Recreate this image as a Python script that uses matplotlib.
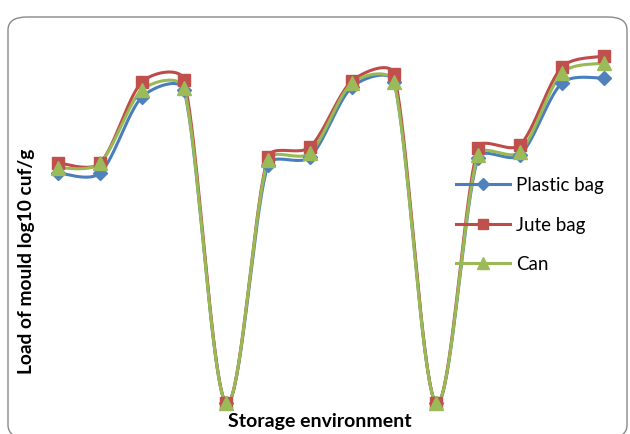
import numpy as np
import matplotlib
matplotlib.use("Agg")
import matplotlib.pyplot as plt
from matplotlib.patches import FancyBboxPatch
from matplotlib.lines import Line2D

categories = list(range(1, 15))
plastic_bag = [4.60, 4.60, 6.12, 6.26, 0.0, 4.76, 4.92, 6.32, 6.42, 0.0, 4.90, 4.96, 6.40, 6.50]
jute_bag = [4.80, 4.80, 6.42, 6.46, 0.0, 4.92, 5.12, 6.44, 6.58, 0.0, 5.10, 5.16, 6.72, 6.94]
can = [4.70, 4.80, 6.26, 6.30, 0.0, 4.86, 5.00, 6.40, 6.42, 0.0, 4.96, 5.02, 6.60, 6.80]

series = [
    ("Plastic bag", plastic_bag, "#4A7EBB", "#4F81BD", "D", 7.5),
    ("Jute bag", jute_bag, "#BE4B48", "#C0504D", "s", 8.5),
    ("Can", can, "#98B954", "#9BBB59", "^", 9.5),
]

W, H = 630, 434
AX_W, AX_H = 588, 365
YMAX = 7.3
NCAT = len(categories)


def smooth(x, y, n=40):
    # Excel-like smoothed line: Catmull-Rom Bezier in screen space with
    # control distances limited relative to the segment length.
    sx_ = AX_W / NCAT
    sy_ = AX_H / YMAX
    P = np.column_stack([np.asarray(x, float) * sx_, np.asarray(y, float) * sy_])
    m = len(P)
    T = np.zeros_like(P)
    for i in range(m):
        T[i] = (P[min(i + 1, m - 1)] - P[max(i - 1, 0)]) / 6.0
    out = []
    t = np.linspace(0, 1, n)[:, None]
    for i in range(m - 1):
        p1, p2 = P[i], P[i + 1]
        lim = np.hypot(*(p2 - p1)) / 3.0
        t1, t2 = T[i], T[i + 1]
        l1, l2 = np.hypot(*t1), np.hypot(*t2)
        if l1 > lim:
            t1 = t1 * lim / l1
        if l2 > lim:
            t2 = t2 * lim / l2
        c1 = p1 + t1
        c2 = p2 - t2
        b = ((1 - t) ** 3) * p1 + 3 * ((1 - t) ** 2) * t * c1 + 3 * (1 - t) * t ** 2 * c2 + t ** 3 * p2
        out.append(b)
    B = np.vstack(out)
    return B[:, 0] / sx_, B[:, 1] / sy_


plt.rcParams['font.family'] = ['Lato', 'DejaVu Sans']
fig = plt.figure(figsize=(6.3, 4.34), dpi=100)

border = FancyBboxPatch((8 / W, -4 / H), 619 / W, 421 / H,
                        boxstyle="round,pad=0,rounding_size=0.03",
                        transform=fig.transFigure, facecolor="none",
                        edgecolor="#898989", linewidth=1.0, zorder=-1)
fig.patches.append(border)

ax = fig.add_axes([37 / W, 31 / H, AX_W / W, AX_H / H])
ax.set_facecolor("none")
x = np.arange(NCAT)
for name, vals, lc, mc, mk, ms in series:
    sx, sy = smooth(x, vals)
    ax.plot(sx, sy, color=lc, lw=2.2, zorder=3, clip_on=False, solid_capstyle="round")
    ax.plot(x, vals, linestyle="none", marker=mk, markersize=ms, color=mc,
            markeredgecolor=mc, zorder=4, clip_on=False)

ax.set_xlim(-0.5, NCAT - 0.5)
ax.set_ylim(0, YMAX)
for s in ax.spines.values():
    s.set_visible(False)
ax.set_xticks([])
ax.set_yticks([])

fig.text(27 / W, 1 - 261 / H, "Load of mould log10 cuf/g", rotation=90,
         ha="center", va="center", fontsize=13.8, fontweight="bold")
fig.text(320 / W, 1 - 422 / H, "Storage environment", ha="center", va="center",
         fontsize=14, fontweight="bold")

handles = [Line2D([0], [0], color=lc, lw=2.2, marker=mk, markersize=ms - 1,
                  markerfacecolor=mc, markeredgecolor=mc) for _, _, lc, mc, mk, ms in series]
leg = fig.legend(handles, [s[0] for s in series], loc="center left",
                 bbox_to_anchor=(439 / W, 1 - 225 / H), frameon=False,
                 fontsize=13.5, handlelength=2.9, labelspacing=1.2, handletextpad=0.3)

fig.savefig("out.png", dpi=100)
